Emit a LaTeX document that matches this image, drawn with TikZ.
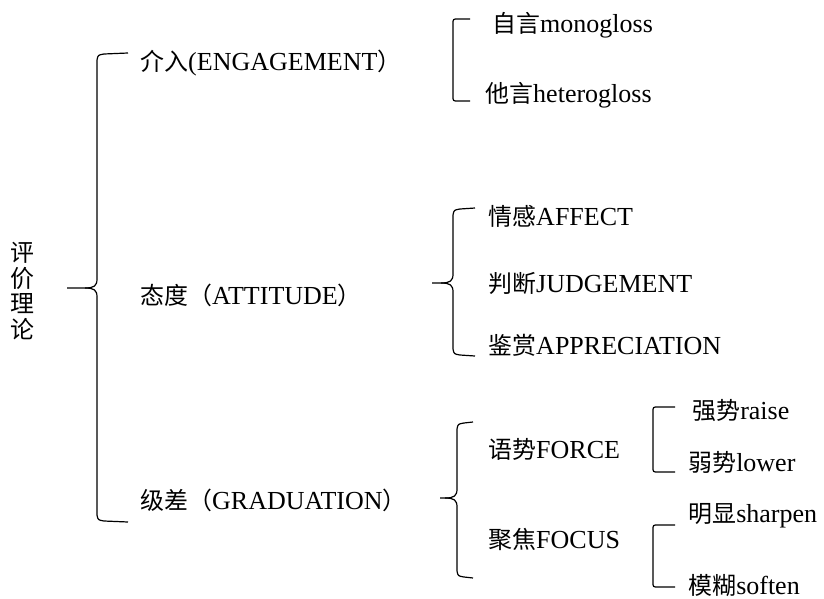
\documentclass[tikz,border=0pt]{standalone}
\usepackage{fontspec}
\setmainfont{Liberation Serif}
\newfontfamily\cjk[Scale=0.92]{Noto Sans CJK SC}
\newcommand{\zh}[1]{{\cjk #1}}

\begin{document}
\begin{tikzpicture}[x=0.5pt,y=-0.5pt,
    term/.style={anchor=west,inner sep=0pt,font=\fontsize{13}{15}\selectfont},
    kuo/.style={line width=0.6pt}]
    \useasboundingbox (0,0) rectangle (824,599);
    % Root
    \node[font=\fontsize{13}{12.8}\selectfont,align=center,inner sep=0pt] (Root) at (22,291)
        {\zh{评}\\\zh{价}\\\zh{理}\\\zh{论}};
    % First Level
    \foreach \name/\i/\y in {{\zh{介入}(ENGAGEMENT\zh{）}}/1/63,
                              {\zh{态度（}ATTITUDE\zh{）}}/2/295,
                              {\zh{级差（}GRADUATION\zh{）}}/3/500} {
        \node[term] (Level1-\i) at (140,\y) {\name};
    }
    % Second Level
    \foreach \name/\i/\x/\y in {{\zh{自言}monogloss}/1/492/25,
                                 {\zh{他言}heterogloss}/2/485/95,
                                 {\zh{情感}AFFECT}/3/488/216,
                                 {\zh{判断}JUDGEMENT}/4/488/283,
                                 {\zh{鉴赏}APPRECIATION}/5/488/345,
                                 {\zh{语势}FORCE}/6/488/449,
                                 {\zh{聚焦}FOCUS}/7/488/539} {
        \node[term] (Level2-\i) at (\x,\y) {\name};
    }
    % Third Level
    \foreach \name/\i/\x/\y in {{\zh{强势}raise}/1/692/411,
                                 {\zh{弱势}lower}/2/688/462,
                                 {\zh{明显}sharpen}/3/688/516,
                                 {\zh{模糊}soften}/4/688/586} {
        \node[term] (Level3-\i) at (\x,\y) {\name};
    }
    % Braces with a tip
    \foreach \sx/\up/\dn/\hx/\ty/\tx in {97/53/522/128/288/67,
                                          453/208/356/475/283/432,
                                          457/422/578/473/498/440} {
        \coordinate (Tip-\sx) at (\tx,\ty);
        \draw[kuo] (\hx,\up) -- (\sx+7,\up+1) .. controls (\sx+1,\up+2) .. (\sx,\up+7)
            -- (\sx,\ty-9) .. controls (\sx,\ty-2) and (\sx-3,\ty) .. (\sx-12,\ty) -- (Tip-\sx);
        \draw[kuo] (\sx-12,\ty) .. controls (\sx-3,\ty) and (\sx,\ty+2) .. (\sx,\ty+9)
            -- (\sx,\dn-7) .. controls (\sx+1,\dn-2) .. (\sx+7,\dn-1) -- (\hx,\dn);
    }
    % Brackets
    \foreach \sx/\up/\dn/\hx in {453/19/101/470,653/407/472/675,653/525/587/675} {
        \draw[kuo] (\hx,\up) -- (\sx+5,\up) .. controls (\sx,\up) .. (\sx,\up+5)
            -- (\sx,\dn-5) .. controls (\sx,\dn) .. (\sx+5,\dn) -- (\hx,\dn);
    }
\end{tikzpicture}
\end{document}
